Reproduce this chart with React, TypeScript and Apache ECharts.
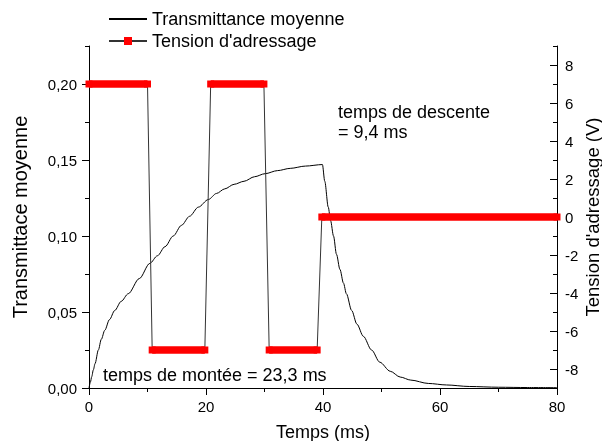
import React, { useEffect, useRef } from "react";
import * as echarts from "echarts";

// Transmittance moyenne (time in ms, transmittance)
const transTime = [0, 0.25, 0.46, 0.75, 1.03, 1.6, 2.1, 2.7, 3.5, 4.4, 5.5, 6.7, 8.6, 10.4, 11.7, 13.0, 14.4, 15.8, 17.2, 18.7, 20.4, 21.8, 23.2, 24.8, 26.5, 28.3, 30.1, 32.2, 34.4, 37.0, 39.9, 40.3, 40.9, 41.3, 41.8, 42.3, 42.9, 43.5, 44.0, 44.9, 45.8, 46.9, 48.3, 49.7, 51.5, 53.2, 55.0, 58.0, 61.1, 65.0, 70.0, 75.0, 80.0];
const transValue = [0, 0.004, 0.0074, 0.012, 0.016, 0.025, 0.032, 0.038, 0.045, 0.051, 0.057, 0.062, 0.072, 0.082, 0.087, 0.093, 0.1, 0.107, 0.113, 0.119, 0.124, 0.128, 0.131, 0.134, 0.136, 0.139, 0.141, 0.143, 0.1445, 0.146, 0.147, 0.136, 0.119, 0.11, 0.1, 0.088, 0.078, 0.069, 0.062, 0.051, 0.042, 0.034, 0.025, 0.017, 0.011, 0.0072, 0.0052, 0.003, 0.002, 0.001, 0.0005, 0.0003, 0.0002];

// Tension d'adressage: plateaus (start ms, end ms, volts)
const plateauStart = [0, 10.8, 20.8, 30.8, 39.8];
const plateauEnd = [10.0, 19.8, 29.9, 39.0, 80];
const plateauVolt = [7, -7, 7, -7, 0];

const xTicks = [0, 20, 40, 60, 80];
const leftTicks = [0, 0.05, 0.1, 0.15, 0.2];
const rightTicks = [-8, -6, -4, -2, 0, 2, 4, 6, 8];

const seriesTrans = "Transmittance moyenne";
const seriesTension = "Tension d'adressage";
const xName = "Temps (ms)";
const leftName = "Transmittace moyenne";
const rightName = "Tension d'adressage (V)";
const noteDescente1 = "temps de descente";
const noteDescente2 = "= 9,4 ms";
const noteMontee = "temps de montée = 23,3 ms";

const FONT = "'Liberation Sans', Arial, sans-serif";

export default function App() {
  const ref = useRef<HTMLDivElement>(null);
  useEffect(() => {
    if (!ref.current) return;
    const chart = echarts.init(ref.current, null, { renderer: "svg" });

    const transData = transTime.map((t, i) => [t, transValue[i]]);
    const connData: any[] = [];
    const bandData: any[] = [];
    plateauStart.forEach((s, i) => {
      connData.push([s, plateauVolt[i]]);
      connData.push([plateauEnd[i], plateauVolt[i]]);
      bandData.push([s, plateauVolt[i]]);
      bandData.push([plateauEnd[i], plateauVolt[i]]);
      if (i < plateauStart.length - 1) bandData.push([plateauEnd[i], "-"]);
    });

    const fmtComma = (v: number) => v.toFixed(2).replace(".", ",");
    const black = "#000";

    chart.setOption({
      animation: false,
      textStyle: { fontFamily: FONT },
      grid: { left: 89, right: 45, top: 46, bottom: 53, containLabel: false, outerBoundsMode: "none" },
      legend: {
        data: [
          { name: seriesTrans, itemStyle: { opacity: 0 } },
          { name: seriesTension },
        ],
        orient: "vertical",
        left: 103,
        top: 5,
        itemWidth: 38,
        itemHeight: 10,
        itemGap: 4,
        textStyle: { fontSize: 18, color: black, fontFamily: FONT },
      },
      xAxis: {
        type: "value",
        min: 0,
        max: 80,
        interval: 20,
        name: xName,
        nameLocation: "middle",
        nameGap: 35,
        nameMoveOverlap: false,
        nameTextStyle: { fontSize: 18, color: black, fontFamily: FONT },
        axisLine: { show: true, lineStyle: { color: black, width: 1 } },
        axisTick: { show: true, length: 7, lineStyle: { color: black } },
        minorTick: { show: true, splitNumber: 2, length: 4, lineStyle: { color: black } },
        axisLabel: { fontSize: 15, color: black, margin: 11, fontFamily: FONT, customValues: xTicks },
        splitLine: { show: false },
      },
      yAxis: [
        {
          type: "value",
          position: "left",
          min: 0,
          max: 0.225,
          name: leftName,
          nameLocation: "middle",
          nameGap: 59,
          nameMoveOverlap: false,
          nameTextStyle: { fontSize: 20, color: black, fontFamily: FONT },
          axisLine: { show: true, lineStyle: { color: black, width: 1 } },
          axisTick: { show: true, length: 7, customValues: leftTicks, lineStyle: { color: black } },
          axisLabel: { fontSize: 15, color: black, margin: 12, fontFamily: FONT, customValues: leftTicks, formatter: fmtComma },
          splitLine: { show: false },
        },
        {
          type: "value",
          position: "right",
          min: -9,
          max: 9,
          interval: 2,
          name: rightName,
          nameLocation: "middle",
          nameGap: 26,
          nameMoveOverlap: false,
          nameTextStyle: { fontSize: 18.5, color: black, fontFamily: FONT },
          axisLine: { show: true, onZero: false, lineStyle: { color: black, width: 1 } },
          axisTick: { show: true, inside: true, length: 4, lineStyle: { color: black } },
          minorTick: { show: true, splitNumber: 2, length: 7, lineStyle: { color: black } },
          axisLabel: { fontSize: 15, color: black, margin: 8, fontFamily: FONT, customValues: rightTicks },
          splitLine: { show: false },
        },
        {
          type: "value",
          position: "left",
          min: 0,
          max: 0.225,
          interval: 0.025,
          axisLine: { show: false },
          axisTick: { show: true, length: 4, lineStyle: { color: black } },
          axisLabel: { show: false },
          splitLine: { show: false },
        },
      ],
      series: [
        {
          name: seriesTrans,
          type: "line",
          yAxisIndex: 0,
          data: transData,
          symbol: "none",
          smooth: 0.3,
          smoothMonotone: "x",
          lineStyle: { color: black, width: 1 },
          itemStyle: { color: black },
          z: 2,
        },
        {
          name: seriesTension,
          type: "line",
          yAxisIndex: 1,
          data: connData,
          symbol: "rect",
          symbolSize: 7,
          showAllSymbol: true,
          lineStyle: { color: "#333", width: 1 },
          itemStyle: { color: "#ff0000" },
          z: 3,
        },
        {
          name: "Tension (paliers)",
          type: "line",
          yAxisIndex: 1,
          data: bandData,
          symbol: "none",
          connectNulls: false,
          lineStyle: { color: "#ff0000", width: 7.5, cap: "butt" },
          itemStyle: { color: "#ff0000" },
          z: 4,
        },
      ],
      graphic: [
        {
          type: "text",
          x: 338,
          y: 112,
          style: { text: noteDescente1, fontSize: 18, fontFamily: FONT, fill: black, verticalAlign: "middle" },
        },
        {
          type: "text",
          x: 338,
          y: 132,
          style: { text: noteDescente2, fontSize: 18, fontFamily: FONT, fill: black, verticalAlign: "middle" },
        },
        {
          type: "text",
          x: 103,
          y: 375,
          style: { text: noteMontee, fontSize: 18, fontFamily: FONT, fill: black, verticalAlign: "middle" },
        },
      ],
    });
    return () => chart.dispose();
  }, []);
  return <div ref={ref} style={{ position: "fixed", left: 0, top: 0, width: 602, height: 441 }} />;
}
